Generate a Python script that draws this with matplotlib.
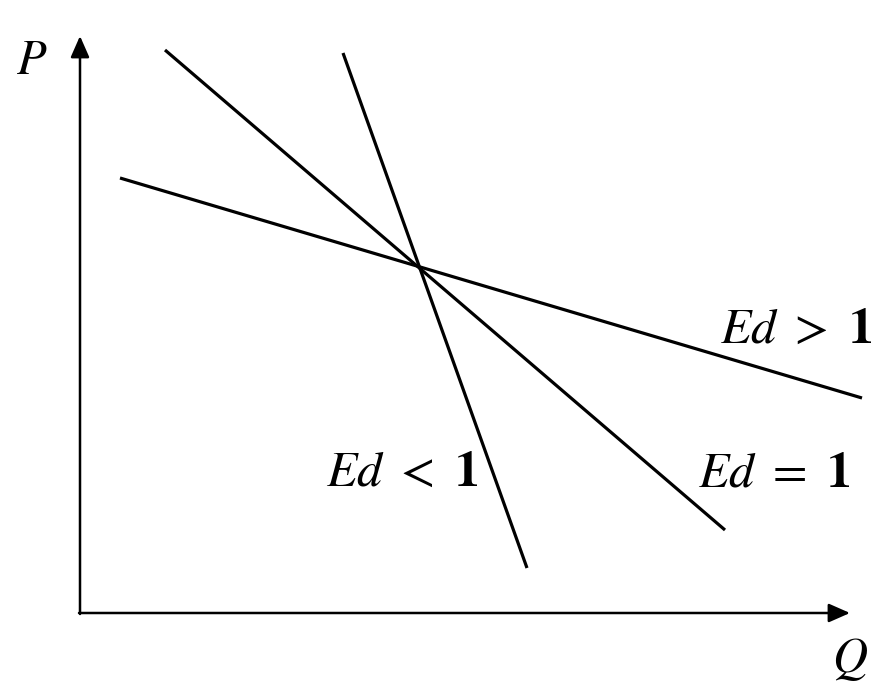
import matplotlib.pyplot as plt

plt.rcParams['mathtext.fontset'] = 'stix'

# Demand curves (pixel-like coordinates, y downwards)
elastic_x = [120, 862]
elastic_y = [178, 398]
unit_x = [165, 725]
unit_y = [50, 530]
inelastic_x = [343, 527]
inelastic_y = [53, 568]

labels = [r'$\mathit{Ed}\ >\ \mathbf{1}$', r'$\mathit{Ed}\ =\ \mathbf{1}$', r'$\mathit{Ed}\ <\ \mathbf{1}$']
label_x = [872, 850, 478]
label_y = [343, 486, 486]

fig = plt.figure(figsize=(8.75, 6.85), dpi=100)
ax = fig.add_axes([0, 0, 1, 1])
ax.set_xlim(0, 875)
ax.set_ylim(685, 0)
ax.axis('off')

# ejes con flechas
ax.annotate('', xy=(80, 36), xytext=(80, 614),
            arrowprops=dict(arrowstyle='-|>,head_length=0.5,head_width=0.22',
                            color='black', lw=1.8, mutation_scale=26,
                            shrinkA=0, shrinkB=0))
ax.annotate('', xy=(850, 613), xytext=(79, 613),
            arrowprops=dict(arrowstyle='-|>,head_length=0.5,head_width=0.22',
                            color='black', lw=1.8, mutation_scale=26,
                            shrinkA=0, shrinkB=0))
ax.text(32, 74, r'$P$', fontsize=35, ha='center', va='baseline')
ax.text(850, 672, r'$Q$', fontsize=35, ha='center', va='baseline')

for xs, ys in [(elastic_x, elastic_y), (unit_x, unit_y), (inelastic_x, inelastic_y)]:
    ax.plot(xs, ys, color='black', lw=2.3, solid_capstyle='butt')

for s, x, y in zip(labels, label_x, label_y):
    ax.text(x, y, s, fontsize=36, ha='right', va='baseline')

fig.savefig('out.png', dpi=100, facecolor='white')
